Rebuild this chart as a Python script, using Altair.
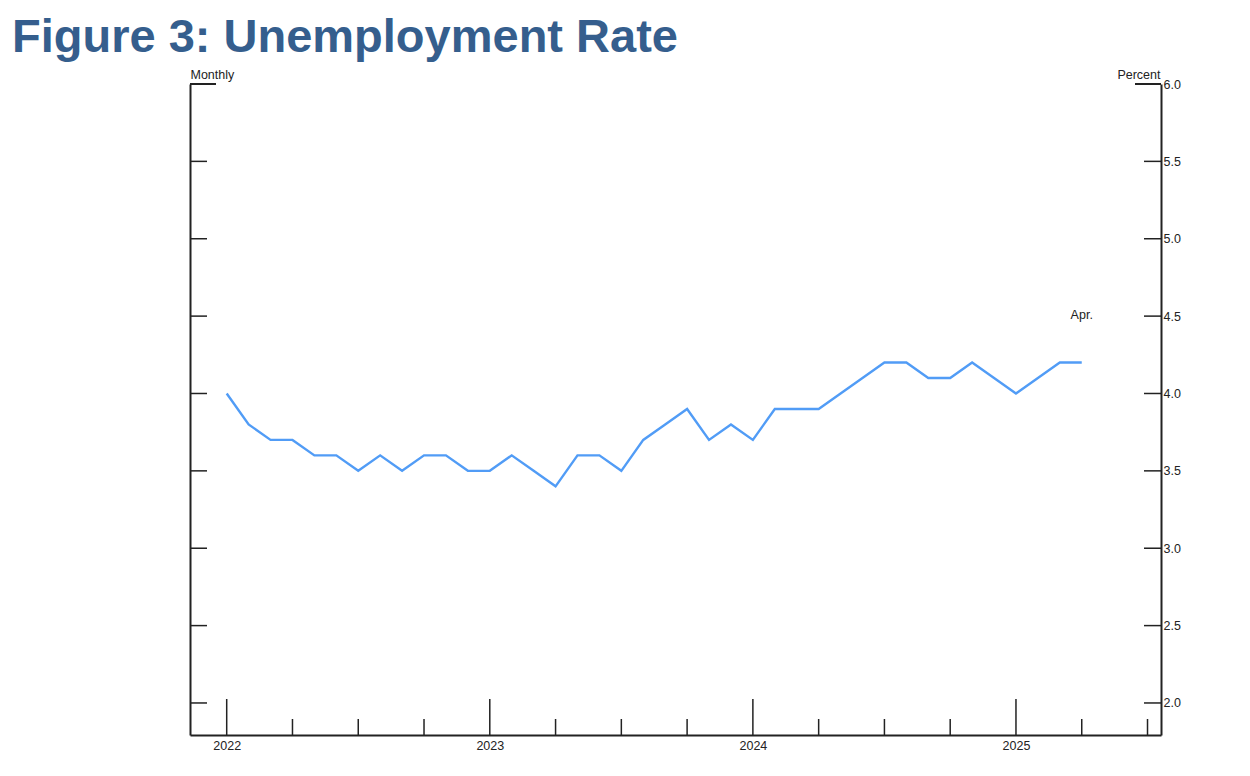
import altair as alt
import pandas as pd

# ---- data -------------------------------------------------------------
months = ["2022-01", "2022-02", "2022-03", "2022-04", "2022-05", "2022-06",
          "2022-07", "2022-08", "2022-09", "2022-10", "2022-11", "2022-12",
          "2023-01", "2023-02", "2023-03", "2023-04", "2023-05", "2023-06",
          "2023-07", "2023-08", "2023-09", "2023-10", "2023-11", "2023-12",
          "2024-01", "2024-02", "2024-03", "2024-04", "2024-05", "2024-06",
          "2024-07", "2024-08", "2024-09", "2024-10", "2024-11", "2024-12",
          "2025-01", "2025-02", "2025-03", "2025-04"]
rate = [4.0, 3.8, 3.7, 3.7, 3.6, 3.6, 3.5, 3.6, 3.5, 3.6, 3.6, 3.5,
        3.5, 3.6, 3.5, 3.4, 3.6, 3.6, 3.5, 3.7, 3.8, 3.9, 3.7, 3.8,
        3.7, 3.9, 3.9, 3.9, 4.0, 4.1, 4.2, 4.2, 4.1, 4.1, 4.2, 4.1,
        4.0, 4.1, 4.2, 4.2]
year_labels = ["2022", "2023", "2024", "2025"]
year_pos = [0, 12, 24, 36]              # month index of each January
quarter_pos = [3, 6, 9, 15, 18, 21, 27, 30, 33, 39, 42]
y_ticks = [2.0, 2.5, 3.0, 3.5, 4.0, 4.5, 5.0, 5.5, 6.0]
y_top = [6.0]
annot_text = ["Apr."]
annot_month = ["2025-04"]

df = pd.DataFrame({"month": months, "idx": list(range(len(months))), "rate": rate})
major_df = pd.DataFrame({"idx": year_pos, "label": year_labels})
minor_df = pd.DataFrame({"idx": quarter_pos})
ticks_y = pd.DataFrame({"v": [v for v in y_ticks if v not in y_top]})
top_y = pd.DataFrame({"v": y_top})
annot = pd.DataFrame({"text": annot_text,
                      "idx": [months.index(m) for m in annot_month],
                      "rate": [rate[months.index(m)] for m in annot_month]})

W, H = 971, 651
x_scale = alt.Scale(domain=[-1.674, 42.615], nice=False, zero=False)
y_scale = alt.Scale(domain=[1.793, 6.0], nice=False, zero=False)
FONT = "Liberation Sans"
AXC = "#222222"
FS = 12.5

x_axis = alt.Axis(values=year_pos, labelExpr="2022 + datum.value / 12",
                  ticks=False, grid=False, domainColor=AXC, domainWidth=2,
                  labelFont=FONT, labelFontSize=FS, labelColor=AXC,
                  labelPadding=4, title=None)

line = alt.Chart(df).mark_line(color="#519cf6", strokeWidth=2.4).encode(
    x=alt.X("idx:Q", scale=x_scale, axis=x_axis),
    y=alt.Y("rate:Q", scale=y_scale,
            axis=alt.Axis(orient="left", labels=False, ticks=False, grid=False,
                          domainColor=AXC, domainWidth=2,
                          title="Monthly", titleAngle=0, titleX=0, titleY=-3,
                          titleAlign="left", titleBaseline="bottom",
                          titleFont=FONT, titleFontSize=FS,
                          titleFontWeight="normal", titleColor=AXC)),
)

right_axis = alt.Chart(ticks_y).mark_rule(color=AXC, strokeWidth=1.5).encode(
    y=alt.Y("v:Q", scale=y_scale,
            axis=alt.Axis(orient="right", values=y_ticks, format=".1f",
                          ticks=False, grid=False, domainColor=AXC,
                          domainWidth=2, labelFont=FONT, labelFontSize=FS,
                          labelColor=AXC, labelPadding=2,
                          title="Percent", titleAngle=0, titleX=-1, titleY=-3,
                          titleAlign="right", titleBaseline="bottom",
                          titleFont=FONT, titleFontSize=FS,
                          titleFontWeight="normal", titleColor=AXC)),
    x=alt.value(W), x2=alt.value(W - 17),
)

right_top = alt.Chart(top_y).mark_rule(color=AXC, strokeWidth=2).encode(
    y=alt.Y("v:Q", scale=y_scale, axis=None),
    x=alt.value(W), x2=alt.value(W - 26),
)

left_ticks = alt.Chart(ticks_y).mark_rule(color=AXC, strokeWidth=1.5).encode(
    y=alt.Y("v:Q", scale=y_scale, axis=None),
    x=alt.value(0), x2=alt.value(17),
)

left_top = alt.Chart(top_y).mark_rule(color=AXC, strokeWidth=2).encode(
    y=alt.Y("v:Q", scale=y_scale, axis=None),
    x=alt.value(0), x2=alt.value(26),
)

major_ticks = alt.Chart(major_df).mark_rule(color=AXC, strokeWidth=1.5).encode(
    x=alt.X("idx:Q", scale=x_scale, axis=None),
    y=alt.value(H), y2=alt.value(H - 36),
)

minor_ticks = alt.Chart(minor_df).mark_rule(color=AXC, strokeWidth=1.5).encode(
    x=alt.X("idx:Q", scale=x_scale, axis=None),
    y=alt.value(H), y2=alt.value(H - 16),
)

label = alt.Chart(annot).mark_text(font=FONT, fontSize=FS, color=AXC,
                                   dy=-48).encode(
    x=alt.X("idx:Q", scale=x_scale, axis=None),
    y=alt.Y("rate:Q", scale=y_scale, axis=None),
    text="text:N",
)

chart = alt.layer(line, right_axis, right_top, left_ticks, left_top,
                  major_ticks, minor_ticks, label).resolve_axis(
    x="independent", y="independent"
).properties(
    width=W, height=H,
    autosize=alt.AutoSizeParams(type="none"),
    padding={"left": 182, "top": 76, "right": 70, "bottom": 30},
    title=alt.TitleParams("Figure 3: Unemployment Rate", anchor="start",
                          frame="group", dx=-178, dy=2, font=FONT,
                          fontSize=47, fontWeight="bold", color="#355e8d",
                          offset=8),
).configure_view(stroke=None)

chart.save("out.html", embed_options={"renderer": "svg", "actions": False})
